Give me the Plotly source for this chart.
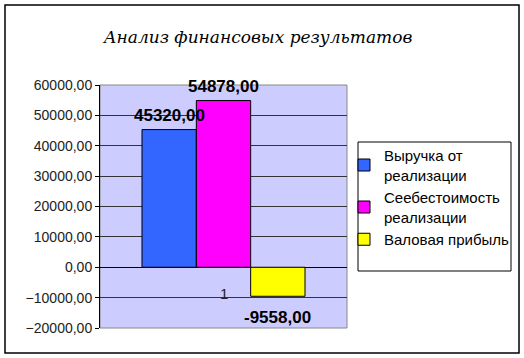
import plotly.graph_objects as go

categories = ["1"]
series_names = ["Выручка от<br>реализации", "Сеебестоимость<br>реализации", "Валовая прибыль"]
series_values = [[45320.00], [54878.00], [-9558.00]]
series_colors = ["#3366FF", "#FF00FF", "#FFFF00"]
title_text = "Анализ финансовых результатов"
y_ticks = [-20000, -10000, 0, 10000, 20000, 30000, 40000, 50000, 60000]

W, H = 524, 358
L, R, T, B = 100, 177, 85, 30
pw, ph = W - L - R, H - T - B
BARGAP = 0.34

def px_x(x):
    return (x - L) / pw

def px_y(y):
    return (H - B - y) / ph

fig = go.Figure()
for name, vals, col in zip(series_names, series_values, series_colors):
    fig.add_trace(go.Bar(
        x=categories, y=vals, name=name,
        marker=dict(color=col, line=dict(color="black", width=1)),
    ))

# data labels drawn on top of all bars
bar_px = pw * (1 - BARGAP) / len(series_values)
n = len(series_values)
for i, vals in enumerate(series_values):
    for ci, v in enumerate(vals):
        fig.add_annotation(
            x=ci, y=v, xref="x", yref="y",
            text=f"{v:.2f}".replace(".", ","),
            showarrow=False,
            xshift=(i - (n - 1) / 2) * bar_px,
            yanchor="bottom" if v >= 0 else "top",
            yshift=3 if v >= 0 else -10,
            font=dict(family="Liberation Sans", size=17, color="black", weight="bold"),
        )

fig.update_layout(
    width=W, height=H,
    margin=dict(l=L, r=R, t=T, b=B, autoexpand=False),
    paper_bgcolor="white",
    plot_bgcolor="#CCCCFF",
    separators=", ",
    barmode="group", bargap=BARGAP, bargroupgap=0,
    showlegend=True,
    font=dict(family="Liberation Sans", color="black"),
    title=dict(text=title_text, x=258 / W, xref="container", xanchor="center",
               y=1 - 37 / H, yref="container", yanchor="middle",
               font=dict(family="DejaVu Serif", size=17, style="italic", color="black")),
    legend=dict(x=px_x(344), y=px_y(139), xanchor="left", yanchor="top",
                bgcolor="rgba(0,0,0,0)", borderwidth=0,
                font=dict(family="Liberation Sans", size=15, color="black"),
                tracegroupgap=6, itemwidth=30),
)
fig.update_xaxes(type="category", range=[-0.5, 0.5], showticklabels=False, showgrid=False,
                 zeroline=False, showline=False, ticks="")
fig.update_yaxes(range=[-20000, 60000], tickvals=y_ticks, tickformat=".2f",
                 showgrid=True, gridcolor="#333333", gridwidth=1,
                 zeroline=True, zerolinecolor="black", zerolinewidth=1,
                 showline=True, linecolor="black", linewidth=1,
                 ticks="outside", ticklen=4, tickcolor="black",
                 tickfont=dict(family="Liberation Sans", size=14, color="#222222"))

# category label
fig.add_annotation(x=0, y=-8800, xref="x", yref="y", text=categories[0],
                   showarrow=False, font=dict(family="Liberation Sans", size=15, color="#222222"),
                   yanchor="middle")

# plot area border (top/right gray)
fig.add_shape(type="rect", xref="paper", yref="paper", x0=0, x1=1, y0=0, y1=1,
              line=dict(color="#888888", width=1), layer="below")
# legend box
fig.add_shape(type="rect", xref="paper", yref="paper",
              x0=px_x(358), x1=px_x(511), y0=px_y(271), y1=px_y(142),
              line=dict(color="black", width=1))
# outer frame
fig.add_shape(type="rect", xref="paper", yref="paper",
              x0=px_x(5), x1=px_x(519), y0=px_y(353), y1=px_y(5),
              line=dict(color="black", width=1.5))

fig.write_html("out.html")
